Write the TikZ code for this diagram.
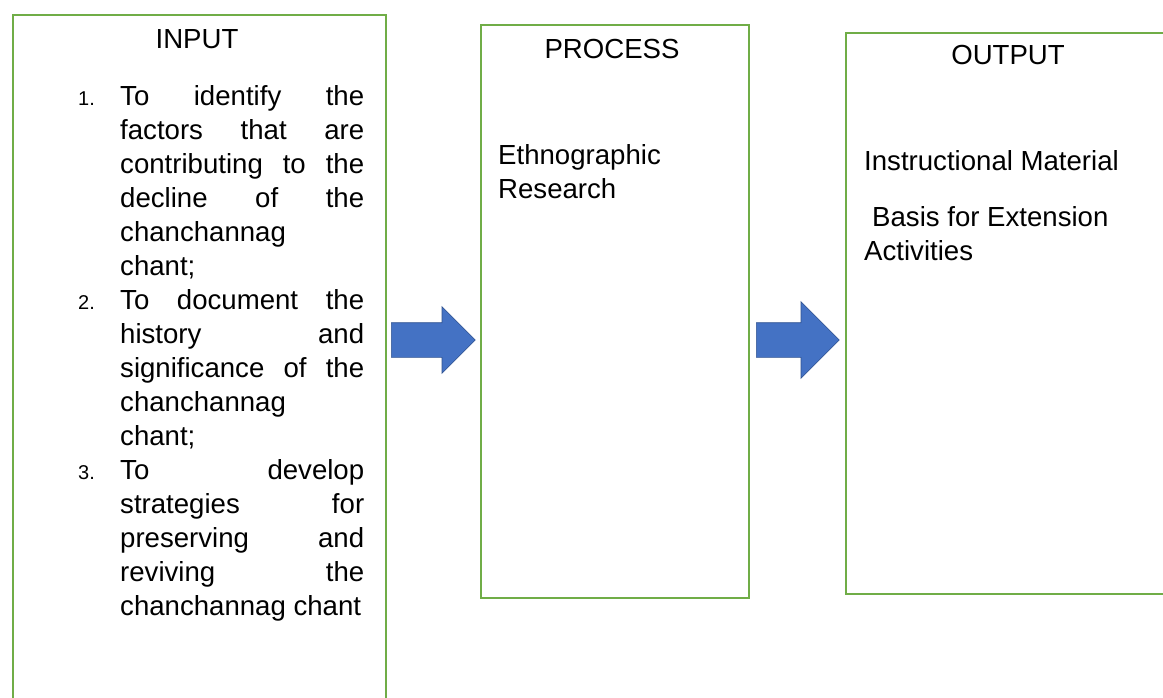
\documentclass[tikz,border=0pt]{standalone}
\usepackage{fontspec}
\setmainfont{Liberation Sans}
\usetikzlibrary{shapes.arrows}

\definecolor{framegreen}{RGB}{112,173,71}
\definecolor{arrowblue}{RGB}{68,114,196}
\definecolor{arrowedge}{RGB}{47,82,143}

% one justified line of the objectives list
\newcommand{\jline}[1]{\makebox[244pt][s]{#1}}
\newcommand{\inum}[1]{{\fontsize{20}{34}\selectfont #1}}

\tikzset{
    frame/.style={draw=framegreen, line width=2pt, inner sep=0pt, anchor=north west},
    boxtext/.style={anchor=base west, inner sep=0pt},
    bigarrow/.style={single arrow, fill=arrowblue, draw=arrowedge, line width=0.6pt,
        inner sep=0pt, text height=34pt, text depth=0pt, anchor=tail,
        single arrow head extend=16pt, minimum height=84pt}
}

\begin{document}
\begin{tikzpicture}[x=1pt, y=-1pt, font=\fontsize{27.6}{34}\selectfont]
            \useasboundingbox (0,0) rectangle (1163,697);
            \clip (0,0) rectangle (1163,697);

            % the three boxes
            \node[frame, minimum width=373pt, minimum height=720pt] (inbox) at (12,14) {};
            \node[frame, minimum width=268pt, minimum height=573pt] (procbox) at (480,24) {};
            \node[frame, minimum width=340pt, minimum height=561pt] (outbox) at (845,32) {};

            \node[anchor=base] (intitle) at (197,48) {INPUT};
            \node[anchor=base] (proctitle) at (612,58) {PROCESS};
            \node[anchor=base] (outtitle) at (1008,64) {OUTPUT};

            \node[boxtext] (inlist) at (78,105) {
                \begin{tabular}[t]{@{}p{42pt}@{}l@{}}
                    \inum{1.} & \jline{To identify the} \\
                    & \jline{factors that are} \\
                    & \jline{contributing to the} \\
                    & \jline{decline of the} \\
                    & chanchannag \\
                    & chant; \\
                    \inum{2.} & \jline{To document the} \\
                    & \jline{history and} \\
                    & \jline{significance of the} \\
                    & chanchannag \\
                    & chant; \\
                    \inum{3.} & \jline{To develop} \\
                    & \jline{strategies for} \\
                    & \jline{preserving and} \\
                    & \jline{reviving the} \\
                    & chanchannag chant \\
                \end{tabular}
            };

            \node[boxtext] (proctext) at (498,164) {
                \begin{tabular}[t]{@{}l@{}}
                    Ethnographic \\
                    Research \\
                \end{tabular}
            };

            \node[boxtext] (outtext) at (864,170) {Instructional Material};
            \node[boxtext] (outbasis) at (864,226) {
                \begin{tabular}[t]{@{}l@{}}
                    \hspace*{8pt}Basis for Extension \\
                    Activities \\
                \end{tabular}
            };

            \node[bigarrow] (arrowA) at (391,340) {};
            \node[bigarrow, single arrow head extend=21pt, minimum height=83pt] (arrowB) at (756,340) {};

        \end{tikzpicture}
\end{document}
